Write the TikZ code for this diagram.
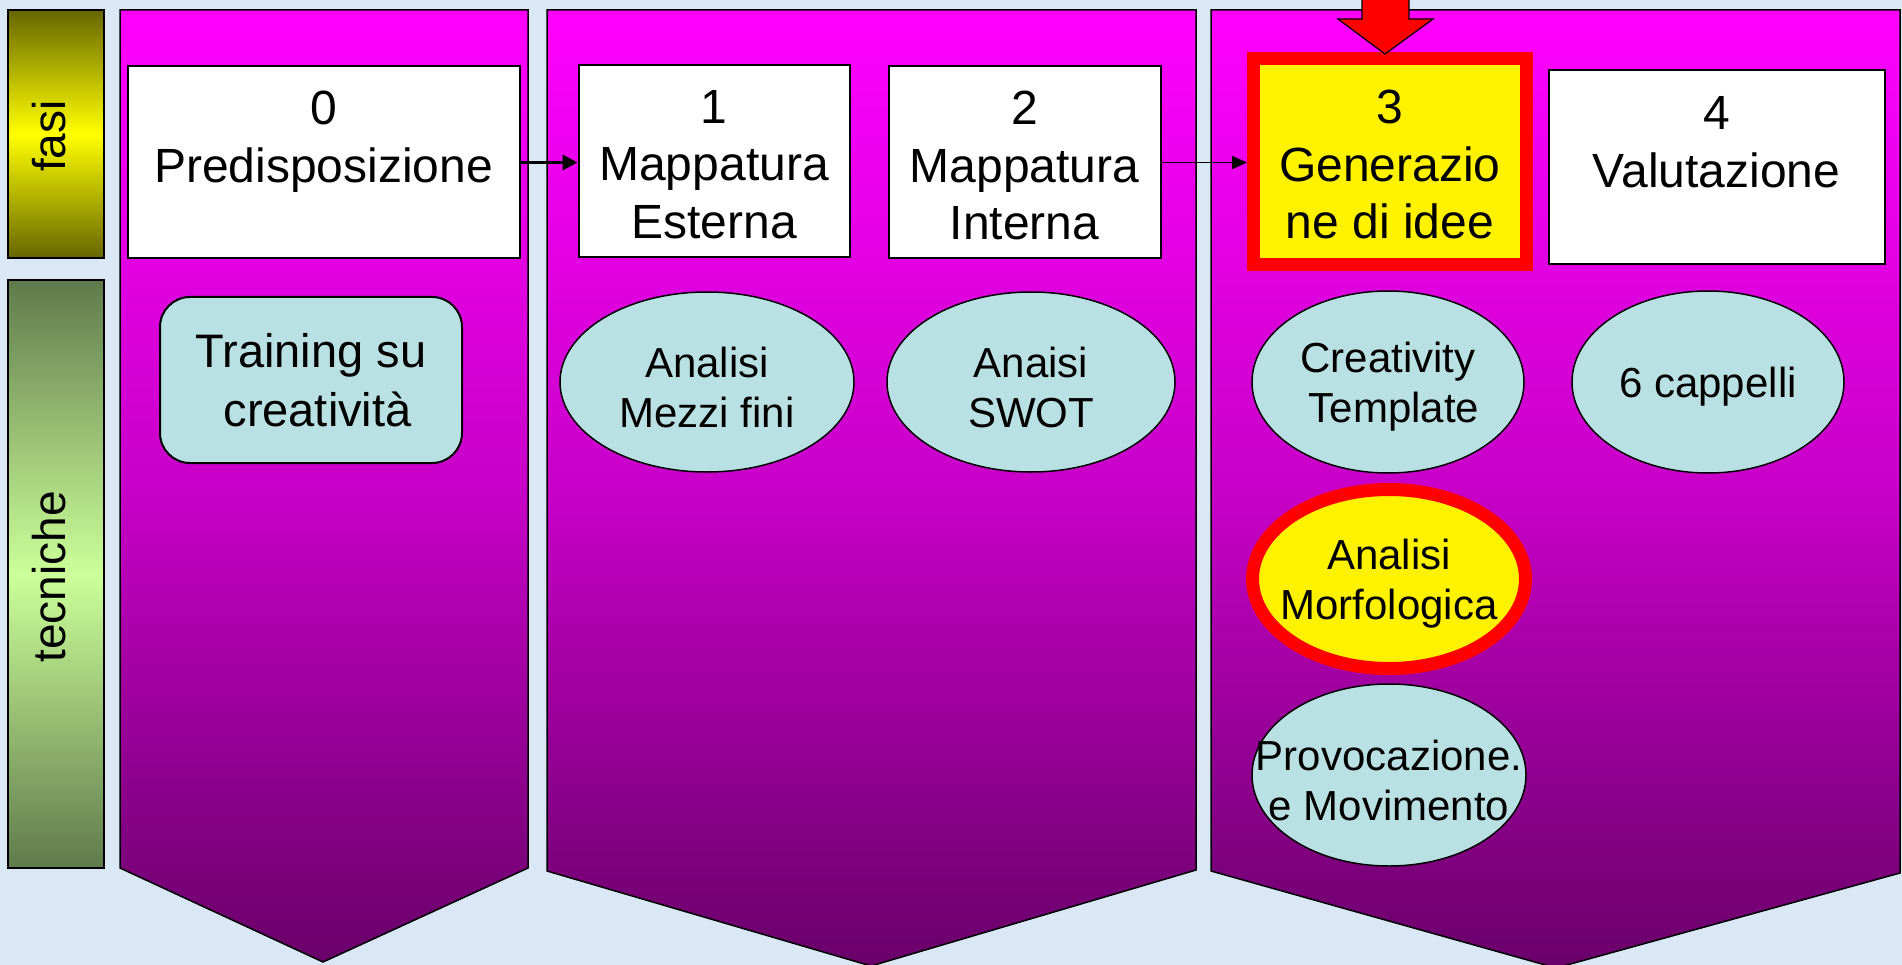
\documentclass[tikz,border=0pt]{standalone}
\usepackage{fontspec}
\setmainfont{Liberation Sans}
\usetikzlibrary{arrows.meta,shapes.geometric}
\definecolor{bgblue}{RGB}{218,232,246}
\definecolor{magtop}{RGB}{255,0,255}
\definecolor{magmid}{RGB}{200,0,200}
\definecolor{magbot}{RGB}{105,0,105}
\definecolor{fasidark}{RGB}{102,102,0}
\definecolor{tecdark}{RGB}{95,122,75}
\definecolor{teclight}{RGB}{204,255,153}
\definecolor{techfill}{RGB}{185,224,226}
\begin{document}
\begin{tikzpicture}[x=1pt,y=-1pt,
  panel/.style={draw=black,line width=1.5pt,top color=magtop,bottom color=magbot,middle color=magmid},
  phasebox/.style={draw=black,line width=2pt,fill=white,inner sep=0pt,minimum width=#1},
  hotbox/.style={draw=red,line width=13pt,fill=yellow,inner sep=0pt},
  phasetext/.style={align=center,inner sep=0pt,yshift=-3pt,font=\fontsize{48pt}{57.6pt}\selectfont},
  tech/.style={ellipse,draw=black,line width=1.5pt,fill=techfill,inner sep=0pt},
  hottech/.style={ellipse,draw=red,line width=13pt,fill=yellow,inner sep=0pt},
  techtext/.style={align=center,font=\fontsize{42pt}{50pt}\selectfont,inner sep=0pt,yshift=-5pt},
  sidebar/.style={draw=black,line width=2pt,inner sep=0pt},
  sidetext/.style={rotate=90,inner sep=0pt,font=\fontsize{46pt}{55pt}\selectfont},
  flowthick/.style={-{Triangle[length=15pt,width=15pt]},line width=3.5pt},
  flowthin/.style={-{Triangle[length=15pt,width=13pt]},line width=1.5pt},
  redarrow/.style={fill=red,draw=black,line width=1.2pt,line join=miter}
]
\useasboundingbox (0,0) rectangle (1902,965);
\fill[bgblue] (0,0) rectangle (1902,965);

% side bars
\node[sidebar,minimum width=96pt,minimum height=248pt,top color=fasidark,bottom color=fasidark,middle color=yellow] (fasibar) at (56,134) {};
\node[sidetext] (fasi) at (49,136) {fasi};
\node[sidebar,minimum width=96pt,minimum height=588pt,top color=tecdark,bottom color=tecdark,middle color=teclight] (tecbar) at (56,574) {};
\node[sidetext] (tecniche) at (49,577) {tecniche};

% panels
\path[panel] (120,10) -- (528,10) -- (528,868) -- (323,962) -- (120,868) -- cycle;
\path[panel] (547,10) -- (1196,10) -- (1196,870) -- (871,966) -- (547,871) -- cycle;
\path[panel] (1211,10) -- (1900,10) -- (1900,873) -- (1556,968) -- (1211,871) -- cycle;

% phase boxes
\node[phasebox=392pt,minimum height=192pt] (p0) at (323.5,162.5) {};
\node[phasetext] (l0) at (p0) {0\\Predisposizione\\\mbox{}};
\node[phasebox=271pt,minimum height=192pt] (p1) at (714,161.5) {};
\node[phasetext] (l1) at (p1) {1\\Mappatura\\Esterna};
\node[phasebox=272pt,minimum height=192pt] (p2) at (1024.5,162.5) {};
\node[phasetext] (l2) at (p2) {2\\Mappatura\\Interna};
\node[hotbox,minimum width=272.5pt,minimum height=205.5pt] (p3) at (1389.75,161.75) {};
\node[phasetext] (l3) at (p3) {3\\Generazio\\ne di idee};
\node[phasebox=336pt,minimum height=194pt] (p4) at (1716.5,167.5) {};
\node[phasetext] (l4) at (p4) {4\\Valutazione\\\mbox{}};

% techniques
\node[draw=black,line width=2pt,fill=techfill,rounded corners=30pt,minimum width=302pt,minimum height=166pt,inner sep=0pt,align=center,font=\fontsize{47pt}{59pt}\selectfont] (train) at (311,380) {Training su\\\hspace*{0.28em}creatività};

\node[tech,minimum width=294pt,minimum height=180pt] (e1) at (707,382) {};
\node[techtext] (t1) at (e1) {Analisi\\Mezzi fini};
\node[tech,minimum width=288pt,minimum height=180pt] (e2) at (1031,382) {};
\node[techtext] (t2) at (e2) {Anaisi\\SWOT};
\node[tech,minimum width=272pt,minimum height=182pt] (e3) at (1388,382) {};
\node[techtext] (t3) at (e3) {Creativity\\\hspace*{0.28em}Template};
\node[tech,minimum width=272pt,minimum height=182pt] (e4) at (1708,382) {};
\node[techtext] (t4) at (e4) {6 cappelli};
\node[hottech,minimum width=273pt,minimum height=179pt] (e5) at (1389,579) {};
\node[techtext] (t5) at (e5) {Analisi\\Morfologica};
\node[tech,minimum width=274pt,minimum height=182pt] (e6) at (1389,775) {};
\node[techtext] (t6) at (e6) {Provocazione.\\e Movimento};

% connectors
\draw[flowthick] (p0.east) -- (p1.west |- p0.east);
\draw[flowthin] (p2.east) -- (p3.west |- p2.east);

% red pointer arrow
\path[redarrow] (1362,-5) -- (1362,19) -- (1338,19) -- (1385,54) -- (1433,19) -- (1409,19) -- (1409,-5) -- cycle;
\end{tikzpicture}
\end{document}
